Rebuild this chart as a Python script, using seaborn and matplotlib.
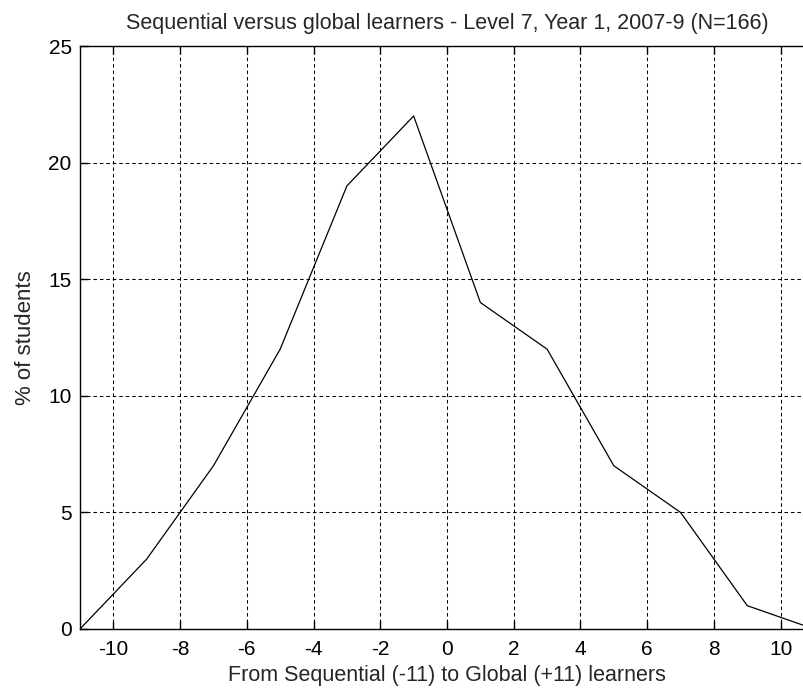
import numpy as np
import pandas as pd
import matplotlib
matplotlib.use("Agg")
import matplotlib.pyplot as plt
import seaborn as sns

# --- data ---
scores = [-11, -9, -7, -5, -3, -1, 1, 3, 5, 7, 9, 11]
pct_students = [0, 3, 7, 12, 19, 22, 14, 12, 7, 5, 1, 0]
x_ticks = [-10, -8, -6, -4, -2, 0, 2, 4, 6, 8, 10]
y_ticks = [0, 5, 10, 15, 20, 25]

df = pd.DataFrame({"score": scores, "pct": pct_students})

sns.set_style("white")
plt.rcParams["font.family"] = ["Liberation Sans", "DejaVu Sans"]
plt.rcParams["axes.unicode_minus"] = False

fig = plt.figure(figsize=(8.04, 6.92), dpi=100)
# right edge of the axes runs past the figure, as in the reference
ax = fig.add_axes([80 / 804, 63 / 692, 734 / 804, 583 / 692])

sns.lineplot(data=df, x="score", y="pct", color="black", linewidth=0.9, ax=ax)

ax.set_xlim(-11, 11)
ax.set_ylim(0, 25)
ax.set_xticks(x_ticks)
ax.set_yticks(y_ticks)
ax.grid(True, color="black", linestyle=(0, (3.4, 2.8)), linewidth=0.75)
ax.tick_params(axis="x", direction="in", length=6, width=1, labelsize=15,
               colors="black", pad=8, top=True, bottom=True)
ax.tick_params(axis="y", direction="in", length=6, width=1, labelsize=15,
               colors="black", pad=6, left=True, right=True)
for s in ax.spines.values():
    s.set_color("black")
    s.set_linewidth(1.0)

ax.set_xlabel("From Sequential (-11) to Global (+11) learners", fontsize=15.5, labelpad=4)
ax.set_ylabel("% of students", fontsize=16, labelpad=9)
ax.set_title("Sequential versus global learners - Level 7, Year 1, 2007-9 (N=166)",
             fontsize=15.5, pad=12)

fig.savefig("out.png", dpi=100)
